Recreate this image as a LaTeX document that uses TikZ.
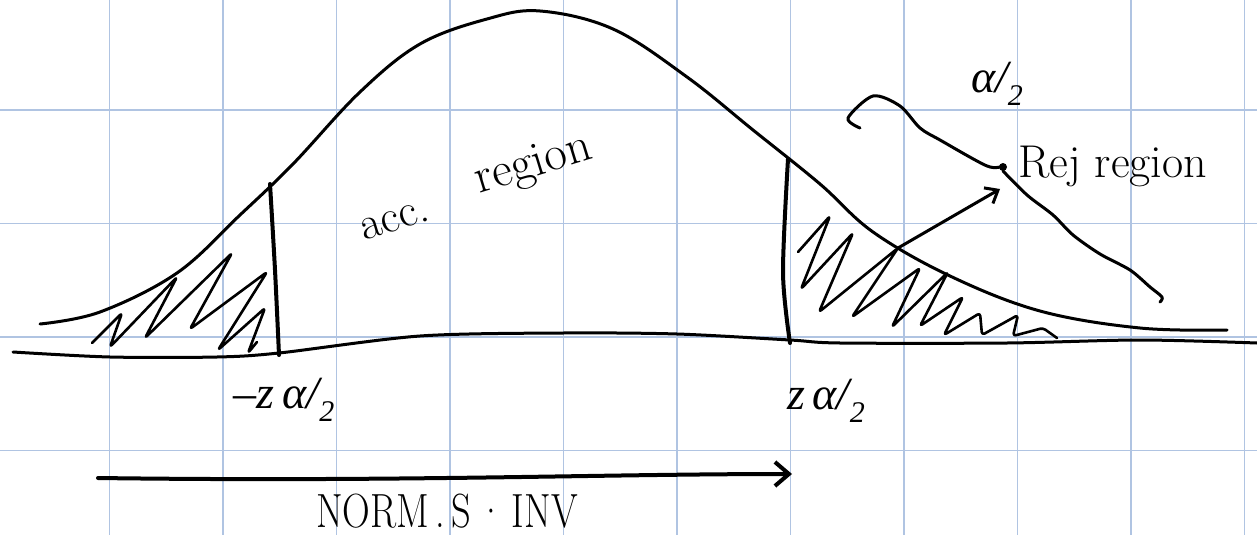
\documentclass[tikz,border=0pt]{standalone}
\usepackage{fontspec}
\newfontfamily\labfont{Liberation Serif}
\usetikzlibrary{arrows.meta}
\definecolor{gridblue}{RGB}{176,196,226}
\newcommand{\halfsub}{\raisebox{-0.28em}{\fontsize{30}{32}\selectfont 2}}
\tikzset{
  ink/.style={line width=3pt, line cap=round, line join=round, black},
  bold ink/.style={line width=4pt, line cap=round, line join=round, black},
  hatch/.style={line width=2.6pt, line cap=round, line join=round, rounded corners=3pt, black},
  gridline/.style={gridblue, line width=1.6pt},
  lbl/.style={inner sep=0pt, font=\fontsize{46}{50}\selectfont},
  mathlbl/.style={inner sep=0pt, font=\labfont\itshape\fontsize{46}{50}\selectfont},
}
\begin{document}
\begin{tikzpicture}[x=1pt,y=-1pt]
\useasboundingbox (0,0) rectangle (1257,535);
\fill[white] (0,0) rectangle (1257,535);
% grid
\foreach \gx in {109.3,222.8,336.3,449.8,563.3,676.8,790.3,903.8,1017.3,1130.8,1244.3}
  \draw[gridline] (\gx,0) -- (\gx,535);
\foreach \gy in {110,223.5,337,450.5}
  \draw[gridline] (0,\gy) -- (1257,\gy);
% bell curve
\draw[ink] plot[smooth, tension=0.6] coordinates {
 (40,324) (100,312) (177,273) (240,215) (293,164) (360,92) (420,44) (487,19)
 (540,11) (613,29) (687,77) (753,130) (820,184) (873,232) (950,276)
 (1040,311) (1140,328) (1227,330)};
% axis
\draw[ink] plot[smooth, tension=0.5] coordinates {
 (13,352) (110,357) (217,357) (279,353) (420,336) (563,333) (677,334)
 (790,340) (840,343) (1007,343) (1140,340) (1257,343)};
% critical lines
\draw[bold ink] plot[smooth] coordinates {(270,184) (275,270) (279,355)};
\draw[bold ink] plot[smooth] coordinates {(788,159) (783,273) (790,343)};
% hatching
\draw[hatch] (92,343) -- (122,313) -- (110,347) -- (177,277) -- (145,338)
 -- (232,253) -- (190,329) -- (267,272) -- (218,350) -- (265,308) -- (248,353) -- (257,342);
\draw[hatch] (798,252) -- (830,216) -- (801,289) -- (853,233) -- (819,312)
 -- (898,248) -- (852,317) -- (920,268) -- (892,327) -- (948,272) -- (920,326)
 -- (963,297) -- (944,335) -- (980,313) -- (982,335) -- (1018,315) -- (1013,336)
 -- (1043,328) -- (1057,338);
% brace
\draw[ink] plot[smooth, tension=0.5] coordinates {
 (860,128) (848,118) (873,96) (900,106) (920,128) (940,140) (987,166) (1003,166)};
\draw[ink] plot[smooth, tension=0.5] coordinates {
 (1003,171) (1027,195) (1053,215) (1073,235) (1100,254) (1130,270) (1150,287) (1162,297) (1160,302)};
\fill (1003,167) circle (4);
% pointer arrow
\coordinate (pstart) at (898,248);
\coordinate (pend) at (1000,189);
\draw[ink, -{Straight Barb[length=11pt,width=18pt]}] (pstart) -- (pend);
% labels
\node[mathlbl] (ahalf) at (997,84) {α/\halfsub};
\node[lbl, anchor=base west] (rej) at (1018,177) {Rej region};
\node[lbl, rotate=17, anchor=base] (acc) at (398,230) {acc.};
\node[lbl, rotate=17, anchor=base, font=\fontsize{49}{52}\selectfont] (region) at (537,176) {region};
\node[mathlbl] (zneg) at (284,400) {\textup{–}z\,α/\halfsub};
\node[mathlbl] (zpos) at (826,401) {z\,α/\halfsub};
% bottom arrow
\coordinate (bstart) at (98,478);
\coordinate (bend) at (792,474);
\draw[bold ink, -{Straight Barb[length=14pt,width=24pt]}] (bstart) .. controls (400,482) and (600,474) .. (bend);
\node[inner sep=0pt] (norm) at (447,511) {\scalebox{0.8}[1]{\fontsize{48}{52}\selectfont NORM\,.\,S\,·\,INV}};
\end{tikzpicture}
\end{document}
